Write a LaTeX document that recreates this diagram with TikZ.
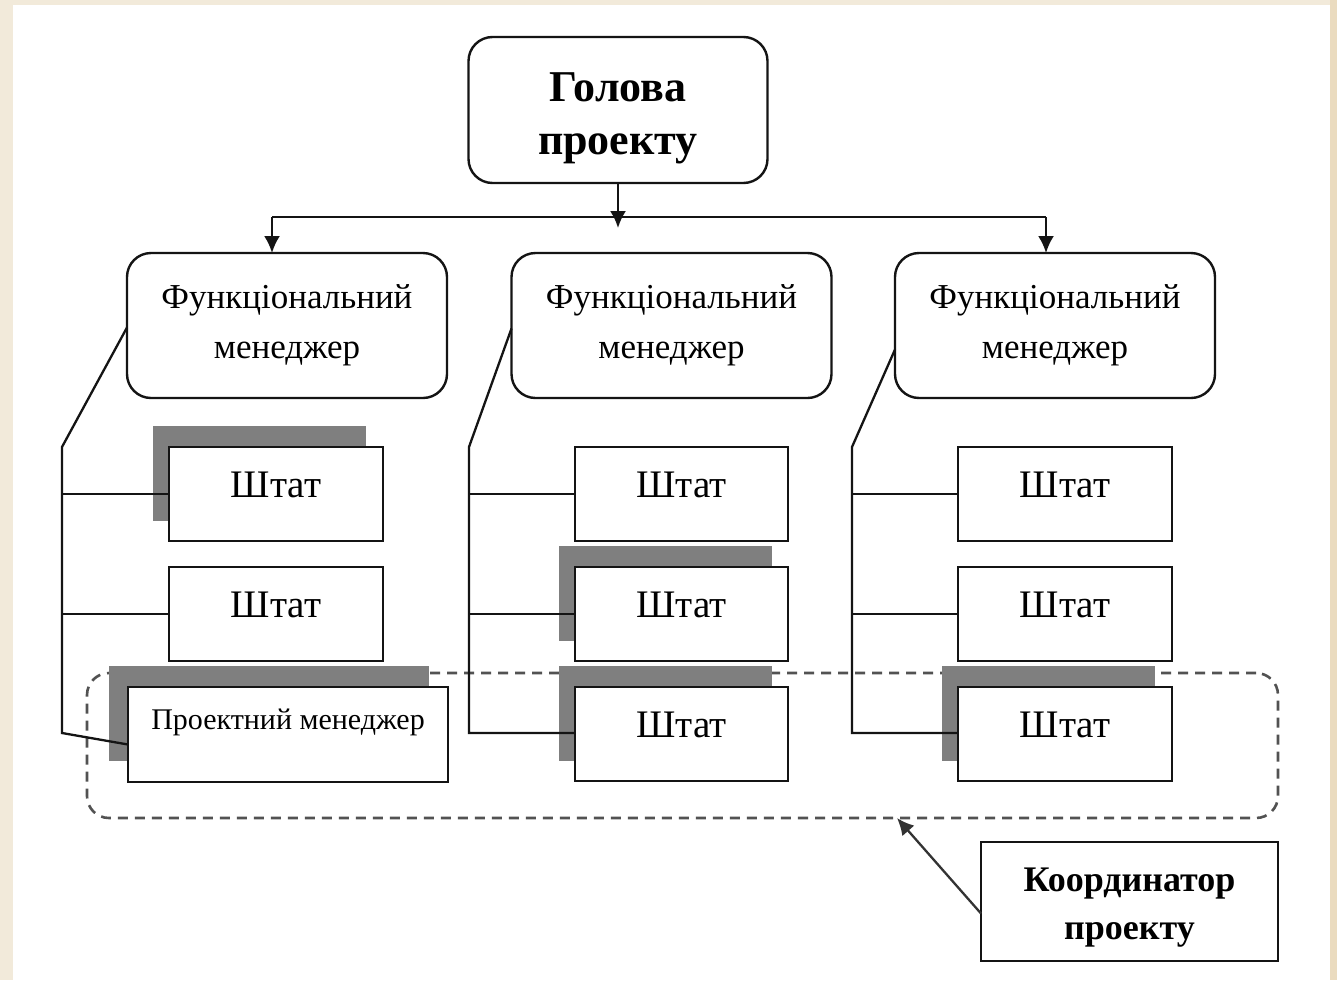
\documentclass[tikz,border=0pt]{standalone}
\usepackage{fontspec}
\setmainfont{Liberation Serif}
\usetikzlibrary{arrows.meta,calc}
\definecolor{bgA}{HTML}{F2EADA}
\definecolor{bgB}{HTML}{EADBBF}
\definecolor{shade}{HTML}{7F7F7F}
\definecolor{ink}{HTML}{141414}
\tikzset{
  rbox/.style={draw=ink, line width=2.4pt, fill=white, rounded corners=24pt, inner sep=0pt, outer sep=0pt, align=center},
  sbox/.style={draw=ink, line width=2.4pt, fill=white, inner sep=0pt, outer sep=0pt, align=center},
  shadowbox/.style={fill=shade, draw=none, inner sep=0pt, outer sep=0pt},
  headtxt/.style={font=\fontsize{44}{53}\selectfont\bfseries},
  fmtxt/.style={font=\fontsize{35}{50}\selectfont},
  shtattxt/.style={font=\fontsize{39}{44}\selectfont, text height=26pt, text depth=20pt},
  pmtxt/.style={font=\fontsize{30}{36}\selectfont, text height=23pt, text depth=33pt},
  cotxt/.style={font=\fontsize{36}{48}\selectfont\bfseries},
  conn/.style={draw=ink, line width=2.3pt},
  arr/.style={draw=ink, line width=2.3pt, -{Latex[length=17pt,width=16pt]}},
  grpbox/.style={draw=black!68, line width=2.6pt, dash pattern=on 10pt off 7pt, rounded corners=22pt, inner sep=0pt, outer sep=0pt},
}
\begin{document}
\begin{tikzpicture}[x=1pt,y=-1pt]
\useasboundingbox (0,0) rectangle (1337,980);
\fill[bgA] (0,0) rectangle (1337,980);
\fill[bgB] (1330,0) rectangle (1337,980);
\fill[white] (13,5) rectangle (1330,980);

% dashed group
\node[grpbox, minimum width=1191pt, minimum height=145pt] (grp) at (682.5,745.5) {};

% shadows
\node[shadowbox, minimum width=213pt, minimum height=95pt] (shL1) at (259,473.5) {};
\node[shadowbox, minimum width=320pt, minimum height=95pt] (shPM) at (269,713.5) {};
\node[shadowbox, minimum width=213pt, minimum height=95pt] (shM2) at (665.5,593.5) {};
\node[shadowbox, minimum width=213pt, minimum height=95pt] (shM3) at (665.5,713.5) {};
\node[shadowbox, minimum width=213pt, minimum height=95pt] (shR3) at (1048,713.5) {};

% top
\node[rbox, headtxt, minimum width=299pt, minimum height=146pt] (head) at (618,110) {\rule{0pt}{45pt}Голова\\проекту};
\node[rbox, fmtxt, minimum width=320pt, minimum height=145pt] (fm1) at (287,325.5) {Функціональний\\менеджер};
\node[rbox, fmtxt, minimum width=320pt, minimum height=145pt] (fm2) at (671.5,325.5) {Функціональний\\менеджер};
\node[rbox, fmtxt, minimum width=320pt, minimum height=145pt] (fm3) at (1055,325.5) {Функціональний\\менеджер};

\coordinate (hL) at (272,217);
\coordinate (hR) at (1046,217);
\coordinate (hM) at (618,228);
\draw[conn] (hL) -- (hR);
\draw[arr] (head.south) -- (hM);
\draw[arr] (hL) -- (hL |- fm1.north);
\draw[arr] (hR) -- (hR |- fm3.north);

% connector corners
\coordinate (aL) at (62,447);
\coordinate (bL) at (62,733);
\coordinate (aM) at (469,447);
\coordinate (bM) at (469,733);
\coordinate (aR) at (852,447);
\coordinate (bR) at (852,733);

% staff boxes
\node[sbox, shtattxt, minimum width=214pt, minimum height=94pt] (L1) at (276,494) {Штат};
\node[sbox, shtattxt, minimum width=214pt, minimum height=94pt] (L2) at (276,614) {Штат};
\node[sbox, pmtxt, minimum width=320pt, minimum height=95pt] (PM) at (288,734.5) {Проектний менеджер};
\node[sbox, shtattxt, minimum width=213pt, minimum height=94pt] (M1) at (681.5,494) {Штат};
\node[sbox, shtattxt, minimum width=213pt, minimum height=94pt] (M2) at (681.5,614) {Штат};
\node[sbox, shtattxt, minimum width=213pt, minimum height=94pt] (M3) at (681.5,734) {Штат};
\node[sbox, shtattxt, minimum width=214pt, minimum height=94pt] (R1) at (1065,494) {Штат};
\node[sbox, shtattxt, minimum width=214pt, minimum height=94pt] (R2) at (1065,614) {Штат};
\node[sbox, shtattxt, minimum width=214pt, minimum height=94pt] (R3) at (1065,734) {Штат};

\draw[conn] ($(fm1.west)+(0,2)$) -- (aL) -- (bL) -- ($(PM.west)+(0,10)$);
\draw[conn] (aL |- L1.west) -- (L1.west);
\draw[conn] (aL |- L2.west) -- (L2.west);

\draw[conn] ($(fm2.west)+(0,3)$) -- (aM) -- (bM) -- (bM -| M3.west);
\draw[conn] (aM |- M1.west) -- (M1.west);
\draw[conn] (aM |- M2.west) -- (M2.west);

\draw[conn] ($(fm3.west)+(0,24)$) -- (aR) -- (bR) -- (bR -| R3.west);
\draw[conn] (aR |- R1.west) -- (R1.west);
\draw[conn] (aR |- R2.west) -- (R2.west);

% coordinator
\node[sbox, cotxt, minimum width=297pt, minimum height=119pt] (coord) at (1129.5,901.5) {\rule{0pt}{35pt}Координатор\\проекту};
\coordinate (tip) at (897,818);
\draw[arr, draw=black!80] ($(coord.west)+(0,12)$) -- (tip);
\end{tikzpicture}
\end{document}
